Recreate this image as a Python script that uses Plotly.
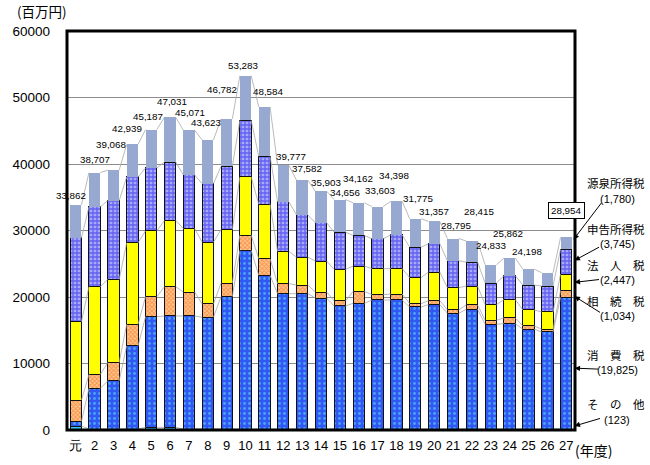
import plotly.graph_objects as go

# ---------------- data (百万円) ----------------
years = ["元"] + [str(i) for i in range(2, 28)]
sonota   = [600, 150, 150, 150, 400, 400, 150, 150, 100, 100, 100, 100, 150, 100, 150,
            100, 100, 100, 100, 100, 100, 100, 100, 100, 100, 100, 123]
shohi    = [700, 6100, 7250, 12500, 16650, 16750, 17000, 16800, 19950, 26900, 23150, 20400,
            20350, 19750, 18500, 18950, 19450, 19450, 18400, 18750, 17450, 18050, 15800,
            15900, 15050, 14650, 19825]
sozoku   = [3200, 2100, 2750, 3250, 3000, 4400, 3600, 2000, 2050, 2300, 2500, 1500, 1300,
            900, 750, 1800, 800, 900, 500, 600, 500, 650, 600, 850, 500, 400, 1034]
hojin    = [11800, 13200, 12500, 12250, 9900, 9950, 9550, 9300, 8050, 8750, 8200, 4850,
            4200, 4650, 4750, 3800, 3900, 3850, 3900, 4300, 3350, 2850, 2350, 2750, 2400,
            2600, 2447]
shinkoku = [12600, 12000, 11850, 9900, 9450, 8800, 8050, 8800, 9500, 8500, 7200, 7450,
            6350, 5750, 5600, 4600, 4500, 5050, 4600, 4250, 4050, 3600, 3250, 3600, 3750,
            3900, 3745]
gensen   = [4962, 5157, 4568, 4889, 5787, 6731, 6721, 6573, 7132, 6733, 7434, 5477, 5232,
            4753, 4906, 4912, 4853, 5048, 4275, 3357, 3345, 3165, 2733, 2662, 2398, 2000,
            1780]
total_labels = ["33,862", "38,707", "39,068", "42,939", "45,187", "47,031", "45,071",
                "43,623", "46,782", "53,283", "48,584", "39,777", "37,582", "35,903",
                "34,656", "34,162", "33,603", "34,398", "31,775", "31,357", "28,795",
                "28,415", "24,833", "25,862", "24,198", "", "28,954"]
legend_names  = ["源泉所得税", "申告所得税", "法　人　税", "相　続　税", "消　費　税", "そ　の　他"]
legend_values = ["(1,780)", "(3,745)", "(2,447)", "(1,034)", "(19,825)", "(123)"]

# ---------------- layout geometry (styling) ----------------
W, H = 650, 465
L, R, T, B = 53.5, 575.5, 31, 431
PW, PH = R - L, B - T
def pxx(x): return (x - L) / PW
def pxy(y): return (B - y) / PH

BW = 0.6
xs = list(range(len(years)))

# label pixel shifts (dx, dy) relative to bar-top centre
label_shift = [(-5, -9), (0.6, -13), (-2, -25.5), (-5, -16.4), (-3, -13), (1.5, -15.8),
               (1.1, -17.8), (-1.3, -17.5), (-4.7, -29), (-2.1, -9.8), (4.5, -15.4),
               (7.8, -9.1), (5.3, -11.2), (5, -8.9), (5.6, -6.7), (-0.5, -24), (3.1, -16.3),
               (-2, -25.7), (3.3, -20.2), (-0.1, -9.7), (3.2, -13.3), (7.9, -29.3),
               (0.7, -19.7), (-1.7, -24.3), (-1.2, -17.4), (0, 0), (0.1, -27)]

series = [
    ("その他", sonota, dict(color="#33CCFF", line=dict(color="black", width=1))),
    ("消費税", shohi, dict(color="#3F6BFF",
                         pattern=dict(shape=".", fgcolor="#66F0FF", bgcolor="#3158F2",
                                      size=5, solidity=0.25),
                         line=dict(color="#111", width=1))),
    ("相続税", sozoku, dict(color="#FFB070",
                         pattern=dict(shape="x", fgcolor="#F05A00", bgcolor="#FFC890",
                                      size=3, solidity=0.5),
                         line=dict(color="#111", width=1))),
    ("法人税", hojin, dict(color="#FFFF00", line=dict(color="#111", width=1))),
    ("申告所得税", shinkoku, dict(color="#8080FF",
                              pattern=dict(shape="+", fgcolor="#1A1AE0", bgcolor="#A8A8FF",
                                           size=4, solidity=0.55),
                              line=dict(color="#111", width=1))),
    ("源泉所得税", gensen, dict(color="#97A9D1", line=dict(width=0))),
]

fig = go.Figure()

# series lines (connect segment tops between adjacent bars)
cum = [0] * len(years)
levels = []
for _, vals, _ in series:
    cum = [c + v for c, v in zip(cum, vals)]
    levels.append(cum[:])
for lev in levels:
    lx, ly = [], []
    for i in range(len(years) - 1):
        lx += [i + BW / 2, i + 1 - BW / 2, None]
        ly += [lev[i], lev[i + 1], None]
    fig.add_trace(go.Scatter(x=lx, y=ly, mode="lines",
                             line=dict(color="#A8A8A8", width=0.8),
                             hoverinfo="skip", showlegend=False))

for name, vals, marker in series:
    fig.add_trace(go.Bar(x=xs, y=vals, name=name, width=BW, marker=marker,
                         showlegend=False))

totals = levels[-1]
ann = []
for i, (t, lab) in enumerate(zip(totals, total_labels)):
    if not lab:
        continue
    dx, dy = label_shift[i]
    a = dict(x=i, y=t, xref="x", yref="y", text=lab, showarrow=False,
             xshift=dx, yshift=-dy, yanchor="middle",
             font=dict(family="Liberation Sans, Arial", size=9.8, color="black"))
    if i == len(years) - 1:
        a.update(bordercolor="black", borderwidth=1, bgcolor="white", borderpad=2)
    ann.append(a)

# unit label and axis title
ann.append(dict(x=pxx(0), y=pxy(11), xref="paper", yref="paper", text="(百万円)",
                showarrow=False, xanchor="left", yanchor="middle",
                font=dict(family="Noto Sans CJK JP", size=13.5, color="black")))
ann.append(dict(x=pxx(573), y=pxy(451), xref="paper", yref="paper", text="(年度)",
                showarrow=False, xanchor="left", yanchor="middle",
                font=dict(family="Noto Sans CJK JP", size=14, color="black")))

# right-side legend labels
name_y = [183, 229, 266, 302, 356, 405]
val_y = [199, 245, 281, 317, 371, 421]
for nm, vv, ny, vy in zip(legend_names, legend_values, name_y, val_y):
    ann.append(dict(x=pxx(618), y=pxy(ny), xref="paper", yref="paper", text=nm,
                    showarrow=False, xanchor="center", yanchor="middle",
                    font=dict(family="Noto Sans CJK JP", size=11.5, color="black")))
    ann.append(dict(x=pxx(619), y=pxy(vy), xref="paper", yref="paper", text=vv,
                    showarrow=False, xanchor="center", yanchor="middle",
                    font=dict(family="Liberation Sans, Arial", size=11, color="black")))

# arrows (tail -> tip)
arrows = [((603, 202), (574, 240)), ((601, 247), (575, 261)), ((601, 280), (575, 283)),
          ((602, 314), (575, 297)), ((600, 370), (575, 369)), ((602, 419), (575, 427))]
for (tx, ty), (hx, hy) in arrows:
    ann.append(dict(x=pxx(hx), y=pxy(hy), xref="paper", yref="paper", text="",
                    showarrow=True, ax=tx - hx, ay=ty - hy, axref="pixel", ayref="pixel",
                    arrowhead=2, arrowsize=1.1, arrowwidth=1, arrowcolor="black",
                    standoff=0, startstandoff=0))

fig.update_layout(
    width=W, height=H, autosize=False,
    margin=dict(l=L, r=W - R, t=T, b=H - B, pad=0),
    paper_bgcolor="white", plot_bgcolor="white",
    barmode="stack", bargap=0.4,
    annotations=ann,
    shapes=[dict(type="rect", xref="paper", yref="paper", x0=0, x1=1, y0=0, y1=1,
                 line=dict(color="black", width=3), layer="above")],
    xaxis=dict(range=[-0.465, 26.465], tickvals=xs, ticktext=years, showgrid=False,
               zeroline=False, ticks="", showline=False, ticklabelstandoff=6,
               tickfont=dict(family="Liberation Sans, Arial", size=13, color="black")),
    yaxis=dict(range=[0, 60000], dtick=10000, tickformat="d", showgrid=True,
               gridcolor="#8C8C8C", gridwidth=1, zeroline=False, ticks="", showline=False,
               ticklabelstandoff=16,
               tickfont=dict(family="Liberation Sans, Arial", size=13.5, color="black")),
)

fig.write_html("out.html", config={"displayModeBar": False},
               post_script="document.body.style.margin='0';")
